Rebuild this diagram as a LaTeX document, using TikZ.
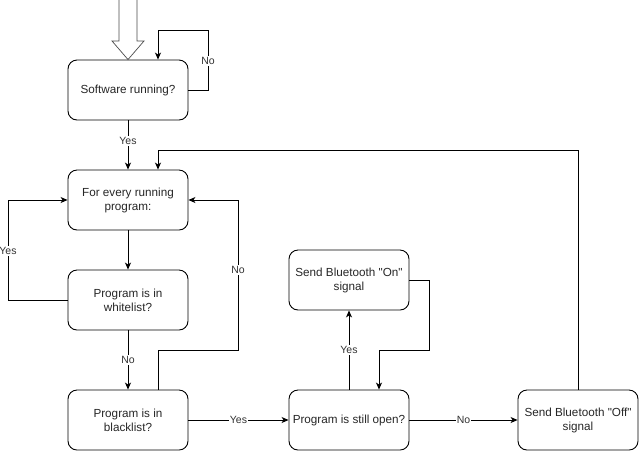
\documentclass[tikz,border=0pt]{standalone}
\usepackage{fontspec}
\setmainfont[Ligatures=NoCommon]{Liberation Sans}
\usetikzlibrary{arrows.meta}
\begin{document}
\begin{tikzpicture}[x=1pt,y=-1pt,
  box/.style={draw=black,line width=0.9pt,rounded corners=9pt,minimum width=120pt,minimum height=60pt,align=center,font=\fontsize{11.7}{14}\selectfont,text=black!85,inner sep=2pt},
  conn/.style={draw=black,line width=0.8pt,-{Stealth[length=7pt,width=6pt,inset=2pt]}},
  lbl/.style={fill=white,font=\fontsize{10.5}{12}\selectfont,text=black!80,inner sep=1pt}]
\useasboundingbox (0,0) rectangle (639,451);
\node[box] (sw) at (128,90) {Software running?};
\node[box] (fe) at (128,200) {For every running\\program:};
\node[box] (wl) at (128,300) {Program is in\\whitelist?};
\node[box] (bl) at (128,420) {Program is in\\blacklist?};
\node[box] (op) at (349,420) {Program is still open?};
\node[box] (on) at (349,280) {Send Bluetooth \textquotedbl On\textquotedbl\\signal};
\node[box] (off) at (578,420) {Send Bluetooth \textquotedbl Off\textquotedbl\\signal};
% big hollow arrow
\draw[line width=0.7pt,draw=black!70,fill=white] (119,0) -- (119,41) -- (112,41) -- (sw.north) -- (144,41) -- (137,41) -- (137,0);
% connectors
\draw[conn] (sw.east) -| (208,30) -| ([xshift=30pt]sw.north);
\node[lbl] at (208,61) {No};
\draw[conn] (sw.south) -- node[lbl,pos=0.42] {Yes} (fe.north);
\draw[conn] (fe.south) -- (wl.north);
\draw[conn] (wl.west) -| (8,200) -- (fe.west);
\node[lbl] at (8,251) {Yes};
\draw[conn] (wl.south) -- node[lbl] {No} (bl.north);
\draw[conn] ([xshift=30pt]bl.north) |- (238,350) |- (fe.east);
\node[lbl] at (238,270) {No};
\draw[conn] (bl.east) -- node[lbl] {Yes} (op.west);
\draw[conn] (op.north) -- node[lbl] {Yes} (on.south);
\draw[conn] (on.east) -| (429,350) -| ([xshift=30pt]op.north);
\draw[conn] (op.east) -- node[lbl] {No} (off.west);
\draw[conn] (off.north) |- (158,150) -- ([xshift=30pt]fe.north);
\end{tikzpicture}
\end{document}
